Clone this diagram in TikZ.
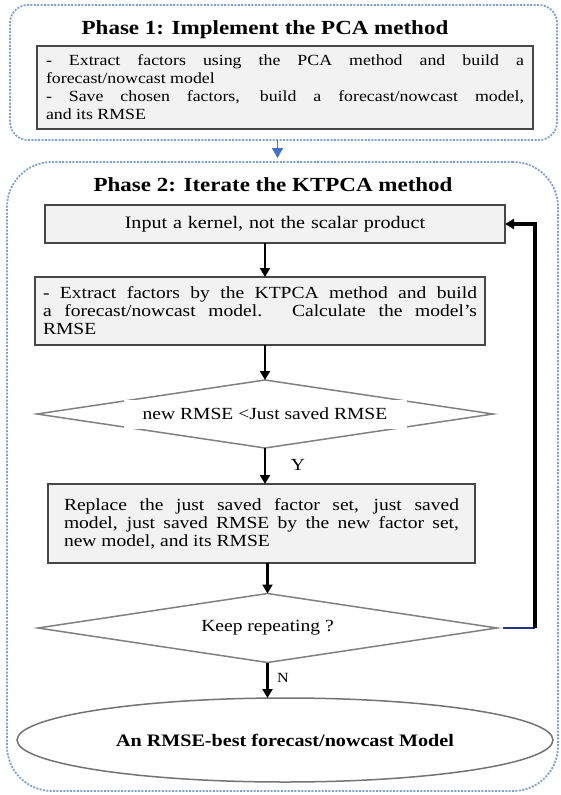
\documentclass[tikz,border=0pt]{standalone}
\usepackage{fontspec}
\setmainfont[FakeStretch=1.15]{Liberation Serif}
\usepackage{tikz}
\usetikzlibrary{shapes.geometric}
\usetikzlibrary{arrows.meta}
\definecolor{phaseblue}{RGB}{125,160,208}
\definecolor{arrowblue}{RGB}{68,114,196}
\definecolor{loopblue}{RGB}{31,56,130}
\definecolor{boxgray}{RGB}{242,242,242}
\newcommand{\titlesize}{\fontsize{20}{22}\selectfont\bfseries}
\newcommand{\smallsize}{\fontsize{15.5}{18}\selectfont}
\newcommand{\bodysize}{\fontsize{17}{18}\selectfont}
\tikzstyle{phase}=[draw=phaseblue, line width=1.8pt, dash pattern=on 2pt off 1.4pt, inner sep=0, outer sep=0]
\tikzstyle{phasetitle}=[font=\titlesize, inner sep=0]
\tikzstyle{stepbox}=[draw=black!72, fill=boxgray, line width=1.8pt, inner ysep=0, outer sep=0, align=justify, font=\bodysize]
\tikzstyle{decision}=[diamond, draw=black!50, line width=1.5pt, inner sep=0, outer sep=0]
\tikzstyle{decisiontext}=[fill=white, inner sep=0, font=\bodysize]
\tikzstyle{terminal}=[ellipse, draw=black!55, line width=1.5pt, inner sep=0, outer sep=0,
                      font=\fontsize{17.5}{18}\selectfont\bfseries]
\tikzstyle{flow}=[line width=2.4pt, -{Triangle[width=10pt,length=9pt]}]
\tikzstyle{flowchart}=[x=1pt, y=-1pt,
                       % page is 560 x 795
                       execute at end picture={\useasboundingbox (0,0) rectangle (560,795);}]

\begin{document}
\begin{tikzpicture}[flowchart]
    % phase frames
    \node[phase, rounded corners=18pt, minimum width=547pt, minimum height=135pt] (ph1) at (283.5,72.5) {};
    \node[phase, rounded corners=45pt, minimum width=551pt, minimum height=629pt] (ph2) at (282.5,476.5) {};
    \node[phasetitle] (t1) at (265,30) {Phase 1: Implement the PCA method};
    \node[phasetitle] (t2) at (273,185) {Phase 2: Iterate the KTPCA method};
    \draw[arrowblue, line width=1.6pt, shorten >=4pt, -{Triangle[width=11pt,length=10pt]}]
        ([xshift=-6pt]ph1.south) -- ([xshift=-6pt]ph1.south |- ph2.north);

    % phase 1
    \node[stepbox, font=\smallsize, text width=478pt, inner xsep=9pt, minimum height=83pt] (pca) at (285,87.5)
        {- Extract factors using the PCA method and build a\linebreak forecast/nowcast model\\
         - Save chosen factors, build a forecast/nowcast model,\linebreak and its RMSE};

    % phase 2
    \node[stepbox, align=center, font=\fontsize{17.5}{18}\selectfont, text width=444pt, inner xsep=8pt, minimum height=38pt] (inbox) at (275,224)
        {Input a kernel, not the scalar product};
    \node[stepbox, text width=434pt, inner xsep=8pt, minimum height=68pt] (exbox) at (260,311)
        {- Extract factors by the KTPCA method and build\linebreak a forecast/nowcast model. Calculate the model's\linebreak RMSE};
    \node[decision, minimum width=456pt, minimum height=68pt,
          label={[decisiontext, minimum width=283pt, minimum height=29pt]center:new RMSE <Just saved RMSE}] (d1) at (265,414) {};
    \node[stepbox, text width=395pt, inner xsep=16pt, minimum height=79pt] (rebox) at (261.5,523.5)
        {Replace the just saved factor set, just saved\linebreak model, just saved RMSE by the new factor set,\linebreak new model, and its RMSE};
    \node[decision, minimum width=459pt, minimum height=69pt,
          label={[decisiontext, minimum width=200pt, minimum height=35pt]center:Keep repeating ?}] (d2) at (267.5,628) {};
    \node[terminal, minimum width=536pt, minimum height=84pt] (best) at (285,740) {An RMSE-best forecast/nowcast Model};

    \draw[flow] (inbox.south -| d1.north) -- (exbox.north -| d1.north);
    \draw[flow] (exbox.south -| d1.north) -- (d1.north);
    \draw[flow] (d1.south) -- (rebox.north -| d1.south);
    \node[font=\fontsize{17}{18}\selectfont] (yes) at (298,465) {Y};
    \draw[flow] (rebox.south -| d2.north) -- (d2.north);
    \draw[flow] (d2.south) -- (d2.south |- best.north);
    \node[font=\fontsize{14}{16}\selectfont] (no) at (283,678) {N};

    % loop back
    \coordinate (turn) at ([xshift=38pt]d2.east);
    \draw[loopblue, line width=2.6pt] ([xshift=6pt]d2.east) -- (turn);
    \draw[flow, line width=3.2pt] (turn) |- (inbox.east);
\end{tikzpicture}
\end{document}
